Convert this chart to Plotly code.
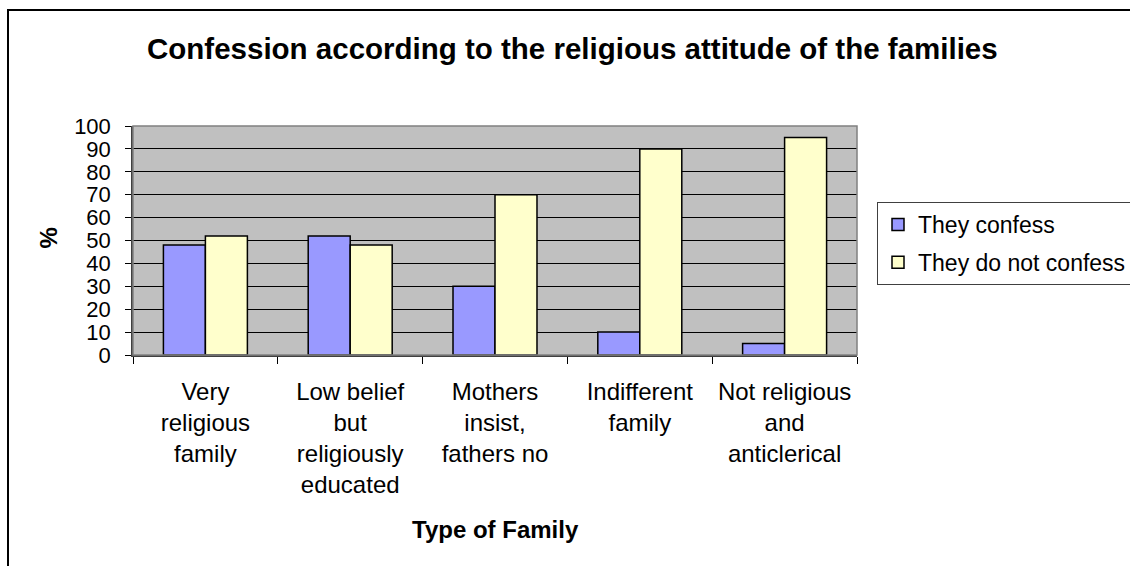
import plotly.graph_objects as go

categories = ["Very religious family", "Low belief but religiously educated",
              "Mothers insist, fathers no", "Indifferent family",
              "Not religious and anticlerical"]
tick_labels = ["Very<br>religious<br>family", "Low belief<br>but<br>religiously<br>educated",
               "Mothers<br>insist,<br>fathers no", "Indifferent<br>family",
               "Not religious<br>and<br>anticlerical"]
confess = [48, 52, 30, 10, 5]
not_confess = [52, 48, 70, 90, 95]
series_names = ["They confess", "They do not confess"]
title_text = "Confession according to the religious attitude of the families"
x_title = "Type of Family"
y_title = "%"

W, H = 1130, 566
L, R, T, B = 133, 857, 126, 355
FONT = "Liberation Sans, Arial, sans-serif"

def px(x):
    return (x - L) / (R - L)

def py(y):
    return (B - y) / (B - T)

fig = go.Figure()
fig.add_trace(go.Bar(x=categories, y=confess, name=series_names[0], legendgroup="a",
                     marker=dict(color="#9999FF", line=dict(color="black", width=1.5))))
fig.add_trace(go.Bar(x=categories, y=not_confess, name=series_names[1], legendgroup="b",
                     marker=dict(color="#FFFFCC", line=dict(color="black", width=1.5))))

fig.update_layout(
    width=W, height=H,
    margin=dict(l=L, r=W - R, t=T, b=H - B, autoexpand=False),
    paper_bgcolor="white", plot_bgcolor="#C0C0C0",
    barmode="group", bargap=0.42, bargroupgap=0,
    font=dict(family=FONT, color="black", size=22),
    showlegend=True,
    legend=dict(x=px(877), y=py(202), xanchor="left", yanchor="top",
                bgcolor="white", bordercolor="#404040", borderwidth=1,
                font=dict(size=23, family=FONT), itemwidth=30,
                tracegroupgap=5),
    xaxis=dict(tickmode="array", tickvals=categories, ticktext=tick_labels,
               tickson="boundaries", ticks="outside", ticklen=7, tickcolor="black",
               tickfont=dict(size=24), showgrid=False, showline=True,
               linecolor="#404040", linewidth=1.5, automargin=False,
               ticklabelstandoff=14),
    yaxis=dict(range=[0, 100], dtick=10, tick0=0, ticks="outside", ticklen=6,
               tickcolor="black", tickfont=dict(size=22), showgrid=True,
               gridcolor="black", gridwidth=1, showline=True, linecolor="#404040",
               linewidth=1.5, zeroline=False, automargin=False,
               ticklabelstandoff=10),
    annotations=[
        dict(text="<b>" + title_text + "</b>", xref="paper", yref="paper",
             x=px(572), y=py(48), xanchor="center", yanchor="middle",
             showarrow=False, font=dict(size=29.5, family=FONT)),
        dict(text="<b>" + x_title + "</b>", xref="paper", yref="paper",
             x=px(495), y=py(529), xanchor="center", yanchor="middle",
             showarrow=False, font=dict(size=24, family=FONT)),
        dict(text="<b>" + y_title + "</b>", xref="paper", yref="paper",
             x=px(47.5), y=py(238), xanchor="center", yanchor="middle",
             textangle=-90, showarrow=False, font=dict(size=24, family=FONT)),
    ],
    shapes=[
        dict(type="rect", xref="paper", yref="paper", x0=0, x1=1, y0=0, y1=1,
             line=dict(color="#808080", width=1.5), fillcolor="rgba(0,0,0,0)", layer="above"),
        dict(type="rect", xref="paper", yref="paper", x0=px(8), x1=px(1140),
             y0=py(10), y1=py(580), line=dict(color="black", width=2),
             fillcolor="rgba(0,0,0,0)", layer="above"),
    ],
)

fig.write_html("out.html")
